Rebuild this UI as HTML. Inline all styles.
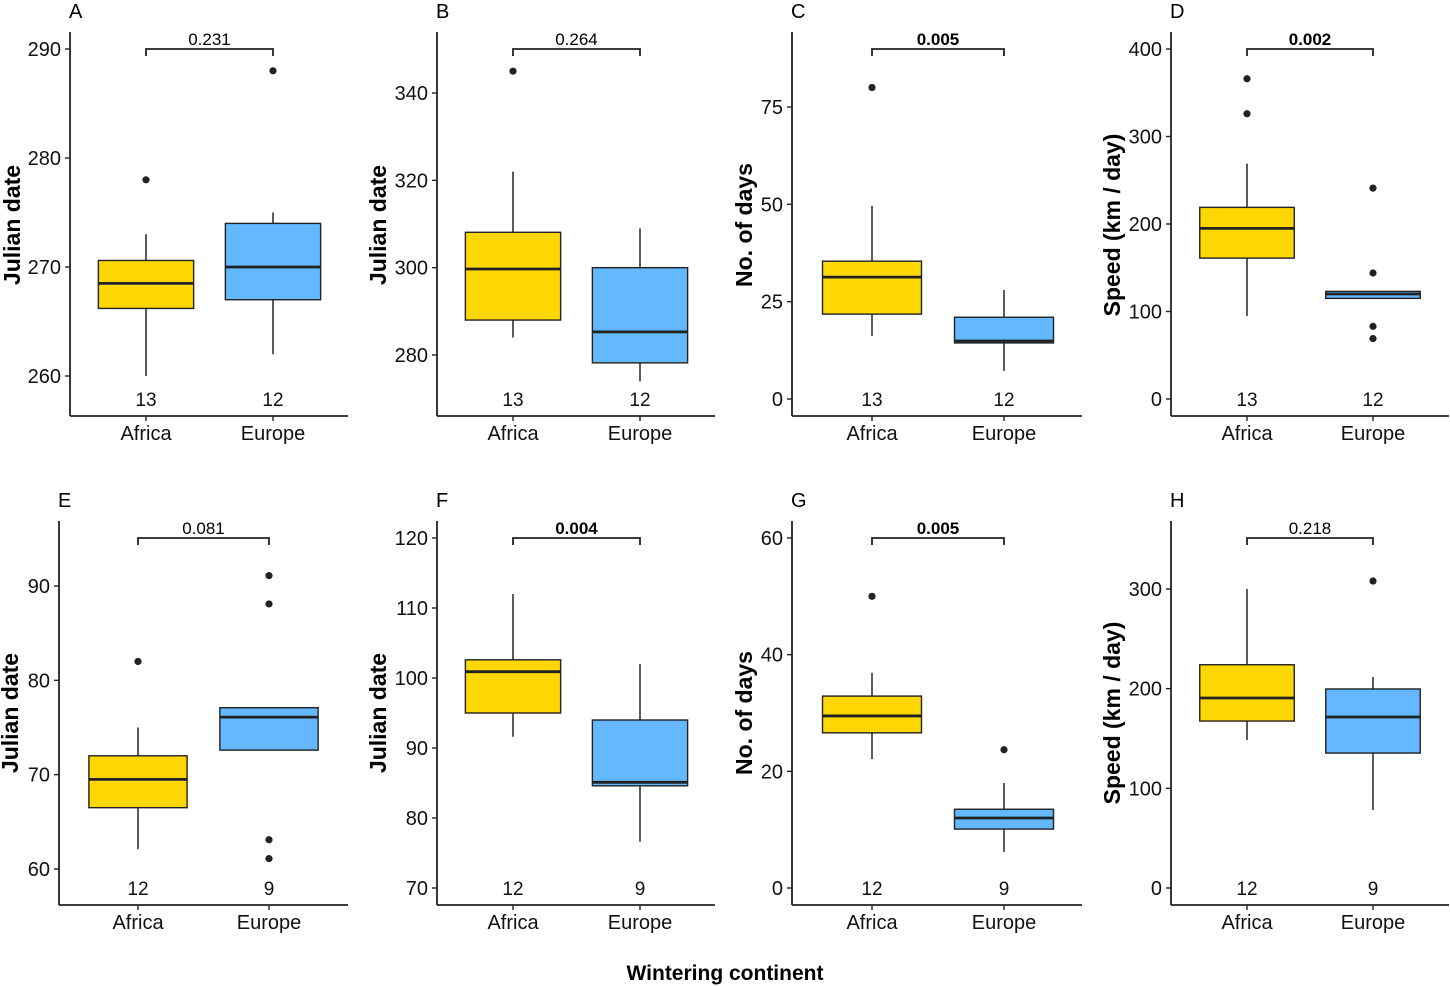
<!DOCTYPE html>
<html><head><meta charset="utf-8"><style>
body{margin:0;background:#fff}
svg{display:block;font-family:"Liberation Sans",Arial,sans-serif}
</style></head><body>
<svg id="fig" width="1450" height="986" viewBox="0 0 1450 986"></svg>
<script>
const categories=["Africa","Europe"];
const panelLetters=["A","B","C","D","E","F","G","H"];
const yTitles=["Julian date","Julian date","No. of days","Speed (km / day)","Julian date","Julian date","No. of days","Speed (km / day)"];
const pValues=["0.231","0.264","0.005","0.002","0.081","0.004","0.005","0.218"];
const pBold=[false,false,true,true,false,true,true,false];
const counts=[[13,12],[13,12],[13,12],[13,12],[12,9],[12,9],[12,9],[12,9]];
const yTicks=[[260,270,280,290],[280,300,320,340],[0,25,50,75],[0,100,200,300,400],[60,70,80,90],[70,80,90,100,110,120],[0,20,40,60],[0,100,200,300]];
// [lower whisker, q1, median, q3, upper whisker]
const africaStats=[[260,266.2,268.5,270.6,273],[284,288,299.7,308.1,322],[16.2,21.8,31.3,35.4,49.6],[95,161,195,219,269],[62.1,66.5,69.5,72,75],[91.6,95,100.9,102.6,112],[22.1,26.6,29.5,32.9,36.9],[148.5,167.5,190.6,224,300]];
const europeStats=[[262,267,270,274,275],[274,278.2,285.3,300,309],[7.2,14.4,14.9,21,28],[115,115,120,123,123],[72.6,72.6,76.1,77.1,77.1],[76.6,84.6,85.1,94,102],[6.2,10.1,12,13.5,18],[78.3,135.4,171.6,199.7,211.7]];
const africaOut=[[278],[345],[80],[366,326],[82],[],[50],[]];
const europeOut=[[288],[],[],[241,144,83,69],[91.1,88.1,63.1,61.1],[],[23.7],[308]];
const L=[
 {ax:70,c:[146,273],r:348,row:0,t0:[260,376],t1:[290,49],tx:12},
 {ax:437,c:[513,640],r:715,row:0,t0:[280,355],t1:[340,93],tx:378},
 {ax:792,c:[872,1004],r:1082,row:0,t0:[0,399],t1:[75,107],tx:744},
 {ax:1171,c:[1247,1373],r:1449,row:0,t0:[0,399],t1:[400,49],tx:1112},
 {ax:59,c:[138,269],r:348,row:1,t0:[60,869],t1:[90,586],tx:10},
 {ax:437,c:[513,640],r:715,row:1,t0:[70,888],t1:[120,538],tx:378},
 {ax:792,c:[872,1004],r:1082,row:1,t0:[0,888],t1:[60,538],tx:744},
 {ax:1171,c:[1247,1373],r:1449,row:1,t0:[0,888],t1:[300,589],tx:1112}];
const svg=document.getElementById('fig');
const NS='http://www.w3.org/2000/svg';
function mk(tag,attrs,parent,text){const e=document.createElementNS(NS,tag);for(const k in attrs)e.setAttribute(k,attrs[k]);if(text!==undefined)e.textContent=text;(parent||svg).appendChild(e);return e;}
const fills=["#FFD700","#63B8FF"];
L.forEach((p,i)=>{
 const g=mk('g',{});
 
 
 const top=p.row?521:32, base=p.row?905:416;
 const y=v=>p.t0[1]+(v-p.t0[0])*(p.t1[1]-p.t0[1])/(p.t1[0]-p.t0[0]);
 const lt=mk('text',{x:p.ax-1,y:top-14,'font-size':20,fill:'#000'},g,panelLetters[i]);
 
 const yA=mk('line',{x1:p.ax,y1:top,x2:p.ax,y2:base,stroke:'#222','stroke-width':1.8},g);
 
 const xA=mk('line',{x1:p.ax,y1:base,x2:p.r,y2:base,stroke:'#222','stroke-width':1.8},g);
 
 yTicks[i].forEach(t=>{
  mk('line',{x1:p.ax-5,y1:y(t),x2:p.ax,y2:y(t),stroke:'#222','stroke-width':1.4},g);
  const tl=mk('text',{x:p.ax-9,y:y(t)+7,'font-size':20,'text-anchor':'end',fill:'#111'},g,t);
  
 });
 const yt=mk('text',{x:0,y:0,'font-size':23,'font-weight':'bold','text-anchor':'middle',transform:`translate(${p.tx+8},${p.row?713:225}) rotate(-90)`},g,yTitles[i]);
 
 const bw=(p.c[1]-p.c[0])*0.375;
 [africaStats[i],europeStats[i]].forEach((s,j)=>{
  const cx=p.c[j];
  mk('line',{x1:cx,y1:base,x2:cx,y2:base+5,stroke:'#222','stroke-width':1.4},g);
  const cl=mk('text',{x:cx,y:base+24,'font-size':20,'text-anchor':'middle',fill:'#111'},g,categories[j]);
  
  const nl=mk('text',{x:cx,y:(p.row?888:399)+7,'font-size':19,'text-anchor':'middle',fill:'#111'},g,counts[i][j]);
  
  const w=mk('line',{x1:cx,y1:y(s[0]),x2:cx,y2:y(s[4]),stroke:'#333','stroke-width':1.6},g);
  
  const b=mk('rect',{x:cx-bw,y:y(s[3]),width:2*bw,height:Math.max(1,y(s[1])-y(s[3])),fill:fills[j],stroke:'#222','stroke-width':1.4},g);
  
  const m=mk('line',{x1:cx-bw,y1:y(s[2]),x2:cx+bw,y2:y(s[2]),stroke:'#222','stroke-width':2.8},g);
  
  (j?europeOut[i]:africaOut[i]).forEach(o=>{
   const c=mk('circle',{cx:cx,cy:y(o),r:3.6,fill:'#222'},g);
   
  });
 });
 const by=p.row?538:49;
 const br=mk('path',{d:`M${p.c[0]},${by+7}V${by}H${p.c[1]}V${by+7}`,fill:'none',stroke:'#222','stroke-width':1.8},g);
 
 const pv=mk('text',{x:(p.c[0]+p.c[1])/2,y:by-4,'font-size':17,'text-anchor':'middle','font-weight':pBold[i]?'bold':'normal'},g,pValues[i]);
 
});
const xt=mk('text',{x:725,y:980,'font-size':21,'font-weight':'bold','text-anchor':'middle'},svg,'Wintering continent');


</script>
</body></html>
